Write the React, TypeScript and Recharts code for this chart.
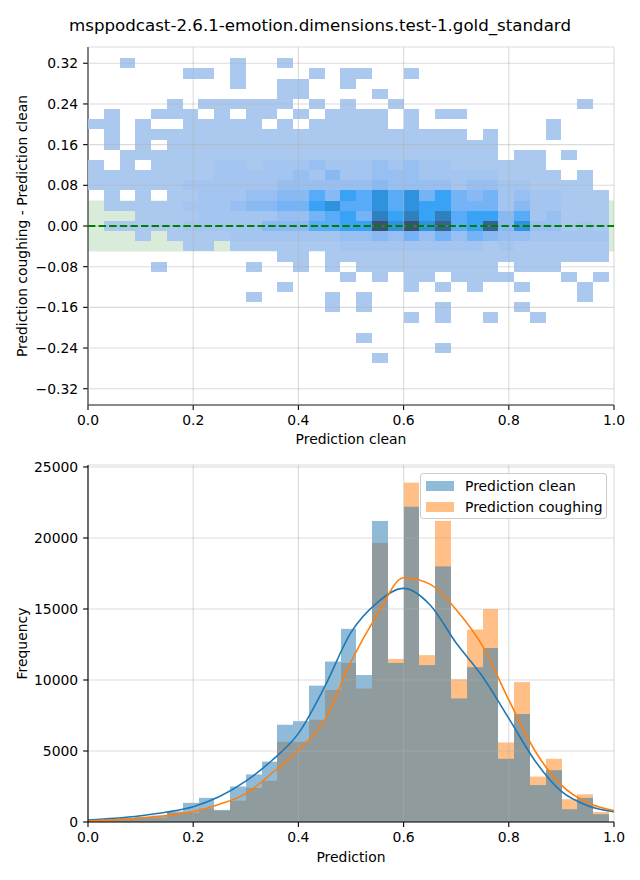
import React from 'react';
import {
  ScatterChart, Scatter, ComposedChart, Bar, Line, XAxis, YAxis,
  CartesianGrid, ReferenceArea, ReferenceLine,
} from 'recharts';

const TITLE = 'msppodcast-2.6.1-emotion.dimensions.test-1.gold_standard';
const FONT = '"DejaVu Sans", sans-serif';

const X_TICKS = [0, 0.2, 0.4, 0.6, 0.8, 1.0];
const DIFF_TICKS = [-0.32, -0.24, -0.16, -0.08, 0, 0.08, 0.16, 0.24, 0.32];
const FREQ_TICKS = [0, 5000, 10000, 15000, 20000, 25000];

// 2d histogram: x bins 0.03 wide from 0, y bins 0.02 high centred on multiples of 0.02
const X_BIN = 0.03;
const Y_BIN = 0.02;
const TOP_BIN = 16; // first row is y = 0.32

// count level per cell, '.' = empty, 1 = few ... D = most; rows from y=0.32 down to y=-0.26
const HEAT_ROWS = [
  '..1......1..1....................',
  '......11.1....1.11..1............',
  '.........1..11..1................',
  '............11....1..............',
  '.....1.111111.1.1..1...........1.',
  '.1..111.1.11.1.1111.1.11.........',
  '11.1..11111.1.11111.1........1...',
  '.1.111111111111111111111.1...1...',
  '.1.1.111111111111111111111.......',
  '..111111111111111111111111.11.1..',
  '1.1.1111221222322232322111111....',
  '111111112222232422333222221111.1.',
  '11111122222233333343333233221111.',
  '.1.1.1122233446476868575452322111',
  '.11111222344557866868775552422111',
  '...111122222335675979796774623111',
  '.11111222224446677D8D8C67C4833121',
  '...1.1111222222233435353543322222',
  '......11.111111122222222212111111',
  '............11.111111111111111111',
  '....1.....1..1.1.111111111.111...',
  '................1.1.11.1111...1.1',
  '............1.......1.1.1..1...1.',
  '..........1....1.1.............1.',
  '...............1.1....1....1.....',
  '....................1.1..1..1....',
  '.................................',
  '.................1...............',
  '......................1..........',
  '..................1..............',
];

const LEVEL_COLORS: Record<string, string> = {
  '1': '#abc9ef',
  '2': '#a3c5ef',
  '3': '#97bff1',
  '4': '#88b9f2',
  '5': '#74b3f5',
  '6': '#58abf6',
  '7': '#38a3f4',
  '8': '#2e93dc',
  '9': '#3080c0',
  'C': '#38638f',
  'D': '#3b5174',
};

// 1d histograms, same 0.03 bins
const HIST_CLEAN = [130, 230, 300, 380, 450, 750, 1350, 1700, 850, 2500, 3350, 4250, 6850, 7100, 9600, 11300, 13600, 10350, 21200, 11200, 22200, 11050, 18000, 8700, 10900, 12250, 4450, 7600, 2600, 3650, 900, 1700, 550];
const HIST_COUGH = [100, 170, 230, 300, 300, 650, 650, 950, 800, 1500, 2400, 2900, 5650, 5650, 7200, 9300, 11200, 9400, 19650, 11480, 23900, 11750, 21200, 10050, 13550, 15000, 5600, 9850, 3200, 4450, 1600, 1950, 700];

// kde curves
const KDE_X = [0, 0.05, 0.1, 0.15, 0.2, 0.25, 0.3, 0.35, 0.4, 0.45, 0.5, 0.55, 0.6, 0.65, 0.7, 0.75, 0.8, 0.85, 0.9, 0.95, 1.0];
const KDE_CLEAN = [140, 260, 440, 700, 1080, 1800, 2880, 4350, 6240, 9530, 13350, 15450, 16450, 15300, 12600, 10250, 7300, 4300, 2150, 1150, 730];
const KDE_COUGH = [70, 150, 280, 450, 730, 1250, 2000, 3450, 5070, 7180, 11300, 14600, 17200, 16750, 14950, 12400, 8600, 5000, 2600, 1350, 800];

const LEGEND_ITEMS = [
  { label: 'Prediction clean', color: '#1f77b4' },
  { label: 'Prediction coughing', color: '#ff7f0e' },
];

const heatCells = HEAT_ROWS.flatMap((row, r) =>
  row.split('').map((ch, c) => (ch === '.' ? null : { x: (c + 0.5) * X_BIN, y: (TOP_BIN - r) * Y_BIN, level: ch }))
).filter(Boolean);

const histData = HIST_CLEAN.map((v, i) => ({ x: (i + 0.5) * X_BIN, clean: v, cough: HIST_COUGH[i] }));
const kdeData = KDE_X.map((x, i) => ({ x, clean: KDE_CLEAN[i], cough: KDE_COUGH[i] }));

// layout
const PLOT_W = 526;
const TOP_PLOT_H = 358;
const DIFF_DOMAIN: [number, number] = [-0.352, 0.352];
const CELL_W = PLOT_W * X_BIN;
const CELL_H = (TOP_PLOT_H * Y_BIN) / (DIFF_DOMAIN[1] - DIFF_DOMAIN[0]);

const tickStyle = { fill: '#000', fontSize: 13.9, fontFamily: FONT };
const axisLine = { stroke: '#000', strokeWidth: 1.1 };

const fmtDiff = (v: number) => (v < 0 ? '\u2212' + Math.abs(v).toFixed(2) : v.toFixed(2));
const snap = (v: number) => Math.round(Math.round(v * 1000) / 1000);

const HeatCell = (props: any) => {
  const { cx, cy, payload } = props;
  if (cx == null || cy == null) return null;
  return (
    <rect
      x={cx - CELL_W / 2}
      y={cy - CELL_H / 2}
      width={CELL_W}
      height={CELL_H}
      fill={LEVEL_COLORS[payload.level]}
      shapeRendering="crispEdges"
    />
  );
};

// bars snapped to whole pixels so neighbouring bins meet without seams or overlaps
const HistBar = (props: any) => {
  const { x, y, width, height, fill, fillOpacity } = props;
  if (!height || height <= 0) return null;
  const mid = x + width / 2;
  const left = snap(mid - CELL_W / 2);
  const right = snap(mid + CELL_W / 2);
  return <rect x={left} y={y} width={right - left} height={height} fill={fill} fillOpacity={fillOpacity} />;
};

const HistLegend = () => (
  <div
    style={{
      position: 'absolute', left: 420, top: 473,
      border: '1px solid #cccccc', borderRadius: 3, background: 'rgba(255,255,255,0.8)',
      padding: '1px 0 1px 5px', boxSizing: 'border-box', width: 187, height: 46,
      fontFamily: FONT, fontSize: 13.9, color: '#000',
    }}
  >
    {LEGEND_ITEMS.map((it) => (
      <div key={it.label} style={{ display: 'flex', alignItems: 'center', height: 21 }}>
        <span style={{ width: 28, height: 10, background: it.color, opacity: 0.5, marginRight: 11, display: 'inline-block' }} />
        <span>{it.label}</span>
      </div>
    ))}
  </div>
);

export default function App() {
  return (
    <div style={{ position: 'absolute', left: 0, top: 0, width: 640, height: 880, background: '#fff', fontFamily: FONT }}>
      <div style={{ position: 'absolute', top: 16, left: 0, width: 640, textAlign: 'center', fontSize: 16.67, lineHeight: '20px', color: '#000' }}>
        {TITLE}
      </div>

      <div style={{ position: 'absolute', top: 0, left: 0 }}>
        <ScatterChart width={640} height={455} margin={{ top: 47, right: 26, bottom: 0, left: 8 }}>
          <ReferenceArea x1={0} x2={1} y1={-0.05} y2={0.05} fill="green" fillOpacity={0.15} stroke="none" zIndex={-50} />
          <Scatter data={heatCells} shape={HeatCell} isAnimationActive={false} />
          <CartesianGrid stroke="#b0b0b0" strokeOpacity={0.45} strokeWidth={1.1} zIndex={650} />
          <ReferenceLine y={0} stroke="green" strokeWidth={2} strokeDasharray="7.4 3.2" zIndex={700} />
          <XAxis
            type="number" dataKey="x" domain={[0, 1]} ticks={X_TICKS} allowDataOverflow
            tickFormatter={(v: number) => v.toFixed(1)}
            height={50} tickSize={4.9} tickMargin={4.9}
            axisLine={axisLine} tickLine={axisLine} tick={tickStyle}
            label={{ value: 'Prediction clean', position: 'insideBottom', offset: 11, fill: '#000', fontSize: 13.9, fontFamily: FONT }}
          />
          <YAxis
            type="number" dataKey="y" domain={DIFF_DOMAIN} ticks={DIFF_TICKS} allowDataOverflow
            tickFormatter={fmtDiff}
            width={80} tickSize={4.9} tickMargin={4.9}
            axisLine={axisLine} tickLine={axisLine} tick={tickStyle}
            label={{ value: 'Prediction coughing - Prediction clean', angle: -90, position: 'insideLeft', offset: 14, fill: '#000', fontSize: 13.9, fontFamily: FONT, style: { textAnchor: 'middle' } }}
          />
        </ScatterChart>
      </div>

      <div style={{ position: 'absolute', top: 440, left: 0 }}>
        <ComposedChart width={640} height={440} data={histData} margin={{ top: 25, right: 26, bottom: 0, left: 8 }} barCategoryGap={0} barGap={0}>
          <XAxis
            xAxisId="clean" type="number" dataKey="x" domain={[0, 1]} ticks={X_TICKS} allowDataOverflow
            tickFormatter={(v: number) => v.toFixed(1)}
            height={58} tickSize={4.9} tickMargin={4.9}
            axisLine={axisLine} tickLine={axisLine} tick={tickStyle}
            label={{ value: 'Prediction', position: 'insideBottom', offset: 18, fill: '#000', fontSize: 13.9, fontFamily: FONT }}
          />
          <XAxis xAxisId="cough" type="number" dataKey="x" domain={[0, 1]} allowDataOverflow hide />
          <XAxis xAxisId="kde" type="number" dataKey="x" domain={[0, 1]} allowDataOverflow hide />
          <YAxis
            type="number" domain={[0, 25140]} ticks={FREQ_TICKS} allowDataOverflow
            width={80} tickSize={4.9} tickMargin={4.9}
            axisLine={axisLine} tickLine={axisLine} tick={tickStyle}
            label={{ value: 'Frequency', angle: -90, position: 'insideLeft', offset: 14, fill: '#000', fontSize: 13.9, fontFamily: FONT, style: { textAnchor: 'middle' } }}
          />
          <Bar xAxisId="cough" dataKey="cough" fill="#ff7f0e" fillOpacity={0.5} shape={HistBar} isAnimationActive={false} />
          <Bar xAxisId="clean" dataKey="clean" fill="#1f77b4" fillOpacity={0.5} shape={HistBar} isAnimationActive={false} />
          <CartesianGrid xAxisId="clean" stroke="#b0b0b0" strokeOpacity={0.45} strokeWidth={1.1} zIndex={350} />
          <Line xAxisId="kde" data={kdeData} dataKey="clean" type="monotone" stroke="#1f77b4" strokeWidth={1.6} dot={false} isAnimationActive={false} />
          <Line xAxisId="kde" data={kdeData} dataKey="cough" type="monotone" stroke="#ff7f0e" strokeWidth={1.6} dot={false} isAnimationActive={false} />
        </ComposedChart>
      </div>

      <HistLegend />
    </div>
  );
}
